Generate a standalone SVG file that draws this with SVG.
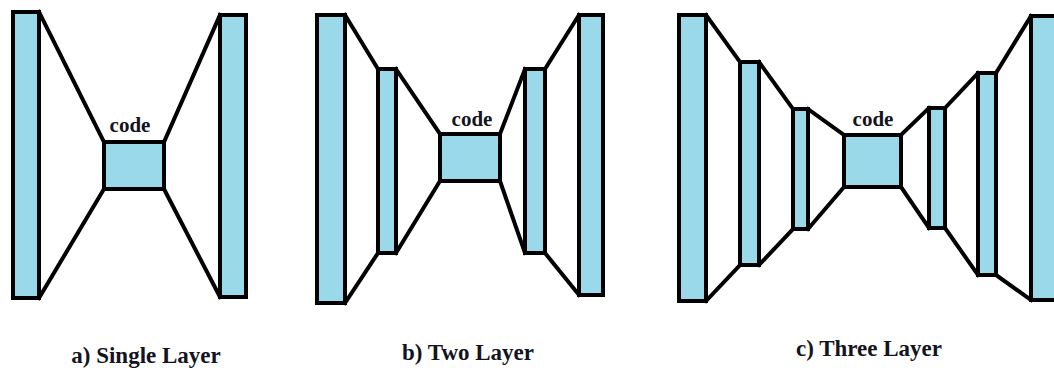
<svg xmlns="http://www.w3.org/2000/svg" width="1054" height="372" viewBox="0 0 1054 372">
<style>
.layer{fill:#99D9EA;stroke:#000;stroke-width:4;stroke-linejoin:miter}
.conn line{stroke:#000;stroke-width:4;stroke-linecap:square}
.code{font-family:'Liberation Serif','DejaVu Serif',serif;font-weight:bold;font-size:21px;fill:#14141e;text-anchor:middle}
.title{font-family:'Liberation Serif','DejaVu Serif',serif;font-weight:bold;font-size:23px;fill:#14141e;text-anchor:middle}
</style>
<rect width="1054" height="372" fill="#fff"/>
<g id="connectors" class="conn">
  <line x1="39" y1="12" x2="104" y2="142"/>
  <line x1="39" y1="298" x2="104" y2="189"/>
  <line x1="164" y1="142" x2="220" y2="15"/>
  <line x1="164" y1="189" x2="220" y2="297"/>
  <line x1="345" y1="15" x2="378" y2="69"/>
  <line x1="345" y1="303" x2="378" y2="253"/>
  <line x1="396" y1="69" x2="440" y2="134"/>
  <line x1="396" y1="253" x2="440" y2="181"/>
  <line x1="500" y1="134" x2="525" y2="69"/>
  <line x1="500" y1="181" x2="525" y2="253"/>
  <line x1="545" y1="69" x2="579" y2="15"/>
  <line x1="545" y1="253" x2="579" y2="295"/>
  <line x1="706" y1="15" x2="740" y2="62"/>
  <line x1="706" y1="301" x2="740" y2="265"/>
  <line x1="759" y1="62" x2="793" y2="109"/>
  <line x1="759" y1="265" x2="793" y2="229"/>
  <line x1="808" y1="109" x2="844" y2="135"/>
  <line x1="808" y1="229" x2="844" y2="187"/>
  <line x1="901" y1="135" x2="929" y2="108"/>
  <line x1="901" y1="187" x2="929" y2="228"/>
  <line x1="945" y1="108" x2="978" y2="73"/>
  <line x1="945" y1="228" x2="978" y2="275"/>
  <line x1="996" y1="73" x2="1031" y2="16"/>
  <line x1="996" y1="275" x2="1031" y2="300"/>
</g>
<g id="a-input"><rect class="layer" x="13" y="12" width="26" height="286"/></g>
<g id="a-code"><rect class="layer" x="104" y="142" width="60" height="47"/><text class="code" x="130" y="132" font-family="Liberation Serif, serif">code</text></g>
<g id="a-output"><rect class="layer" x="220" y="15" width="26" height="282"/></g>
<g id="a-title"><text class="title" x="146" y="363" font-family="Liberation Serif, serif">a) Single Layer</text></g>

<g id="b-input"><rect class="layer" x="317" y="15" width="28" height="288"/></g>
<g id="b-enc1"><rect class="layer" x="378" y="69" width="18" height="184"/></g>
<g id="b-code"><rect class="layer" x="440" y="134" width="60" height="47"/><text class="code" x="472" y="126" font-family="Liberation Serif, serif">code</text></g>
<g id="b-dec1"><rect class="layer" x="525" y="69" width="20" height="184"/></g>
<g id="b-output"><rect class="layer" x="579" y="15" width="24" height="280"/></g>
<g id="b-title"><text class="title" x="468" y="360" font-family="Liberation Serif, serif">b) Two Layer</text></g>

<g id="c-input"><rect class="layer" x="679" y="15" width="27" height="286"/></g>
<g id="c-enc1"><rect class="layer" x="740" y="62" width="19" height="203"/></g>
<g id="c-enc2"><rect class="layer" x="793" y="109" width="15" height="120"/></g>
<g id="c-code"><rect class="layer" x="844" y="135" width="57" height="52"/><text class="code" x="873" y="126" font-family="Liberation Serif, serif">code</text></g>
<g id="c-dec2"><rect class="layer" x="929" y="108" width="16" height="120"/></g>
<g id="c-dec1"><rect class="layer" x="978" y="73" width="18" height="202"/></g>
<g id="c-output"><rect class="layer" x="1031" y="16" width="30" height="284"/></g>
<g id="c-title"><text class="title" x="869" y="356" font-family="Liberation Serif, serif">c) Three Layer</text></g>
</svg>
